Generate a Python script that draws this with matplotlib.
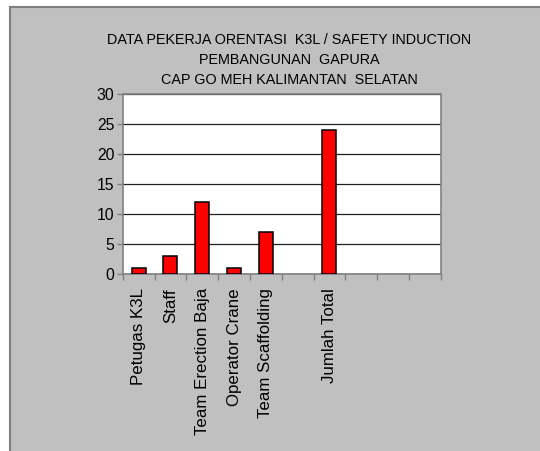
import numpy as np
import matplotlib
matplotlib.use("Agg")
import matplotlib.pyplot as plt
from matplotlib.patches import Rectangle
from matplotlib import font_manager

title_lines = ["DATA PEKERJA ORENTASI  K3L / SAFETY INDUCTION",
               "PEMBANGUNAN  GAPURA",
               "CAP GO MEH KALIMANTAN  SELATAN"]
categories = ["Petugas K3L", "Staff", "Team Erection Baja", "Operator Crane",
              "Team Scaffolding", "", "Jumlah Total", "", "", ""]
values = [1, 3, 12, 1, 7, np.nan, 24, np.nan, np.nan, np.nan]
yticks = [0, 5, 10, 15, 20, 25, 30]

names = {f.name for f in font_manager.fontManager.ttflist}
base_font = "Liberation Sans" if "Liberation Sans" in names else "DejaVu Sans"
title_font = "Liberation Sans Narrow" if "Liberation Sans Narrow" in names else base_font
title_size = 12.3 if title_font == "Liberation Sans Narrow" else 10.4

W, H = 540, 451
fig = plt.figure(figsize=(W / 100, H / 100), dpi=100)
fig.patch.set_facecolor("white")

# gray chart area with darker top/left border
fig.add_artist(Rectangle((9.5 / W, 0), 1, 1 - 6.5 / H, transform=fig.transFigure,
                         facecolor="#C0C0C0", edgecolor="none", zorder=-10))
fig.add_artist(plt.Line2D([9.5 / W, 9.5 / W], [0, 1 - 6.5 / H], transform=fig.transFigure,
                          color="#808080", lw=1.5, zorder=-5))
fig.add_artist(plt.Line2D([9.5 / W, 1], [1 - 6.5 / H, 1 - 6.5 / H], transform=fig.transFigure,
                          color="#808080", lw=1.5, zorder=-5))

ax = fig.add_axes([122.7 / W, 1 - 274.3 / H, (440.7 - 122.7) / W, (274.3 - 94) / H])
ax.set_facecolor("white")

n = len(categories)
x = np.arange(n) + 0.5
ax.bar(x, values, width=0.44, color="#FF0000", edgecolor="black", linewidth=1.1, zorder=3)

ax.set_xlim(0, n)
ax.set_ylim(0, 30)
ax.set_yticks(yticks)
ax.set_yticklabels([str(v) for v in yticks], fontsize=11.3, family=base_font)
ax.yaxis.grid(True, color="#202020", linewidth=0.9, zorder=1)
ax.set_axisbelow(True)

ax.set_xticks(np.arange(n + 1))
ax.set_xticklabels([])
ax.set_xticks(x, minor=True)
ax.set_xticklabels(categories, minor=True, rotation=90, fontsize=12.2, family=base_font,
                   va="top", ha="center")
ax.tick_params(axis="x", which="minor", length=0, pad=10)
ax.tick_params(axis="x", which="major", length=4.5, width=1, color="#808080", direction="out")
ax.tick_params(axis="y", length=4, width=1, color="#808080", direction="out", pad=2)

for s in ax.spines.values():
    s.set_color("#808080")
    s.set_linewidth(1.2)

cx = 289 / W
for line, yb in zip(title_lines, [44, 63.5, 84]):
    fig.text(cx, 1 - yb / H, line, ha="center", va="baseline",
             fontsize=title_size, family=title_font, color="black")

fig.savefig("out.png", dpi=100, facecolor=fig.get_facecolor())
